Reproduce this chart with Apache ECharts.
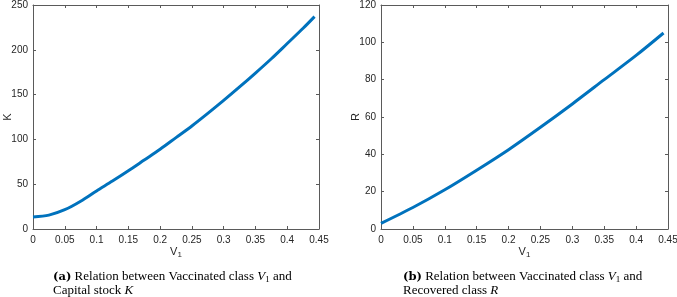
<!DOCTYPE html>
<html>
<head>
<meta charset="utf-8">
<script src="https://cdn.jsdelivr.net/npm/echarts@6/dist/echarts.min.js"></script>
<style>
  html, body { margin: 0; padding: 0; background: #fff; }
  #container { width: 677px; height: 297px; }
</style>
</head>
<body>
<div id="container"></div>
<script>
// values
var v1K = [0, 0.025, 0.05, 0.075, 0.1, 0.125, 0.15, 0.175, 0.2, 0.225, 0.25, 0.275, 0.3, 0.325, 0.35, 0.375, 0.4, 0.425, 0.443];
var kVals = [13.5, 15.5, 21.5, 31, 42.5, 53.5, 65, 77, 89, 102, 115, 129, 143.5, 158.5, 174, 190, 207, 224, 237];

var v1R = [0, 0.05, 0.1, 0.15, 0.2, 0.25, 0.3, 0.35, 0.4, 0.443];
var rVals = [3, 11.5, 21, 31.5, 42.5, 54.5, 67, 80, 93, 105];

var lineBlue = '#0072BD';
var axisGrey = '#5a5a5a';
var labelCol = '#262626';

function pairs(xs, ys) {
  var out = [];
  for (var i = 0; i < xs.length; ++i) out.push([xs[i], ys[i]]);
  return out;
}

function xAxes(grid) {
  var base = {
    gridIndex: grid, type: 'value', min: 0, max: 0.45, interval: 0.05,
    splitLine: { show: false },
    axisLine: { show: true, onZero: false, lineStyle: { color: axisGrey, width: 1 } },
    axisTick: { show: true, inside: true, length: 3, lineStyle: { color: axisGrey } }
  };
  var bottom = echarts.util.merge({
    position: 'bottom',
    name: '{v|V}{s|1}', nameLocation: 'middle', nameGap: 16, nameMoveOverlap: false,
    nameTextStyle: {
      rich: {
        v: { fontFamily: 'Liberation Sans', fontSize: 11, color: labelCol },
        s: { fontFamily: 'Liberation Sans', fontSize: 8, color: labelCol, verticalAlign: 'bottom', padding: [6, 0, 0, 0] }
      }
    },
    axisLabel: { fontFamily: 'Liberation Sans', fontSize: 10, color: labelCol, margin: 6 }
  }, base, true);
  var top = echarts.util.merge({ position: 'top', axisLabel: { show: false } }, base, true);
  return [bottom, top];
}

function yAxes(grid, max, interval, name) {
  var base = {
    gridIndex: grid, type: 'value', min: 0, max: max, interval: interval,
    splitLine: { show: false },
    axisLine: { show: true, onZero: false, lineStyle: { color: axisGrey, width: 1 } },
    axisTick: { show: true, inside: true, length: 3, lineStyle: { color: axisGrey } }
  };
  var left = echarts.util.merge({
    position: 'left',
    name: name, nameLocation: 'middle', nameGap: 20, nameRotate: 90, nameMoveOverlap: false,
    nameTextStyle: { fontFamily: 'Liberation Sans', fontSize: 11, color: labelCol },
    axisLabel: { fontFamily: 'Liberation Sans', fontSize: 10, color: labelCol, margin: 5 }
  }, base, true);
  var right = echarts.util.merge({ position: 'right', axisLabel: { show: false } }, base, true);
  return [left, right];
}

var capRich = {
  b: { fontFamily: 'DejaVu Serif', fontWeight: 'bold', fontSize: 11.5, color: '#111' },
  t: { fontFamily: 'Liberation Serif', fontSize: 13, color: '#111' },
  i: { fontFamily: 'Liberation Serif', fontStyle: 'italic', fontSize: 13, color: '#111' },
  s: { fontFamily: 'Liberation Serif', fontSize: 9, color: '#111', verticalAlign: 'bottom', padding: [5, 0, 0, 0] }
};

var myChart = echarts.init(document.getElementById('container'), null, { renderer: 'canvas' });
var xa = xAxes(0).concat(xAxes(1));
var ya = yAxes(0, 250, 50, 'K').concat(yAxes(1, 120, 20, 'R'));

var option = {
  animation: false,
  backgroundColor: '#fff',
  grid: [
    { left: 33, top: 5, width: 286, height: 224, containLabel: false, outerBoundsMode: 'none' },
    { left: 381, top: 5, width: 287, height: 224, containLabel: false, outerBoundsMode: 'none' }
  ],
  xAxis: xa,
  yAxis: ya,
  series: [
    {
      type: 'line', xAxisIndex: 0, yAxisIndex: 0, smooth: 0.3, symbol: 'none',
      lineStyle: { color: lineBlue, width: 3 },
      data: pairs(v1K, kVals)
    },
    {
      type: 'line', xAxisIndex: 2, yAxisIndex: 2, smooth: 0.3, symbol: 'none',
      lineStyle: { color: lineBlue, width: 3 },
      data: pairs(v1R, rVals)
    }
  ],
  graphic: [
    {
      type: 'text', left: 53, top: 270,
      style: {
        text: '{b|(a)}{t| Relation between Vaccinated class }{i|V}{s|1}{t| and}\n{t|Capital stock }{i|K}',
        rich: capRich, lineHeight: 14
      }
    },
    {
      type: 'text', left: 403, top: 270,
      style: {
        text: '{b|(b)}{t| Relation between Vaccinated class }{i|V}{s|1}{t| and}\n{t|Recovered class }{i|R}',
        rich: capRich, lineHeight: 14
      }
    }
  ]
};
myChart.setOption(option);
</script>
</body>
</html>
